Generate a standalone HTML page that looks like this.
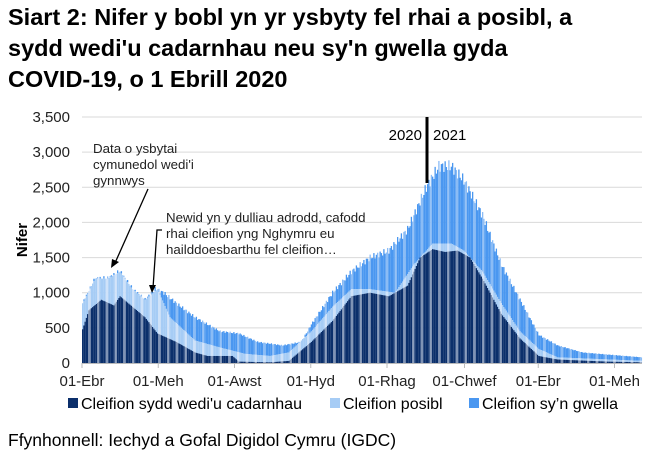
<!DOCTYPE html>
<html><head><meta charset="utf-8"><style>
body{margin:0;background:#fff;width:655px;height:462px;overflow:hidden;font-family:"Liberation Sans",Arial,sans-serif}
</style></head><body>
<svg id="s" width="655" height="462" xmlns="http://www.w3.org/2000/svg" font-family="Liberation Sans, Arial, sans-serif">
<text x="8" y="25" font-size="23.5" font-weight="bold">Siart 2: Nifer y bobl yn yr ysbyty fel rhai a posibl, a</text>
<text x="8" y="56" font-size="23.5" font-weight="bold">sydd wedi'u cadarnhau neu sy'n gwella gyda</text>
<text x="8" y="87" font-size="23.5" font-weight="bold">COVID-19, o 1 Ebrill 2020</text>
<g id="grid"></g>
<g id="bars"></g>
<g id="axis" font-size="15" fill="#222"></g>
<text transform="translate(27,240) rotate(-90)" text-anchor="middle" font-size="15" font-weight="bold">Nifer</text>
<line x1="427" y1="117" x2="427" y2="183" stroke="#000" stroke-width="3"/>
<text x="422" y="140" text-anchor="end" font-size="15">2020</text>
<text x="433" y="140" font-size="15">2021</text>
<g font-size="13.3" fill="#222">
<text x="93" y="153">Data o ysbytai</text>
<text x="93" y="169">cymunedol wedi'i</text>
<text x="93" y="185">gynnwys</text>
<text x="166" y="222">Newid yn y dulliau adrodd, cafodd</text>
<text x="166" y="238">rhai cleifion yng Nghymru eu</text>
<text x="166" y="254">hailddoesbarthu fel cleifion…</text>
</g>
<line x1="148" y1="189" x2="115" y2="263" stroke="#000" stroke-width="1.3"/>
<polygon points="111,268 112,259 119,262" fill="#000"/>
<polyline points="162,230 157,230 153,288" fill="none" stroke="#000" stroke-width="1.3"/>
<polygon points="152,293 149,285 156,285" fill="#000"/>
<g font-size="16">
<rect x="68" y="398" width="10" height="10" fill="#0b2f6b"/><text x="81" y="409">Cleifion sydd wedi'u cadarnhau</text>
<rect x="330" y="398" width="10" height="10" fill="#a6ccf5"/><text x="343" y="409">Cleifion posibl</text>
<rect x="469" y="398" width="10" height="10" fill="#4a97f0"/><text x="482" y="409">Cleifion sy’n gwella</text>
</g>
<text x="8" y="446" font-size="17.5">Ffynhonnell: Iechyd a Gofal Digidol Cymru (IGDC)</text>
</svg>
<script>
var NS="http://www.w3.org/2000/svg";
function el(p,t,a,txt){var e=document.createElementNS(NS,t);for(var k in a)e.setAttribute(k,a[k]);if(txt)e.textContent=txt;p.appendChild(e);return e;}
var y0=363,py=246/3500,x0=82,px=1.25;
var g=document.getElementById('grid'),ax=document.getElementById('axis'),b=document.getElementById('bars');
for(var v=0;v<=3500;v+=500){var y=y0-v*py;if(v>0)el(g,'line',{x1:82,x2:642,y1:y,y2:y,stroke:'#d9d9d9','stroke-width':1});
el(ax,'text',{x:70,y:y+5,'text-anchor':'end'},v.toLocaleString('en-US'));}
el(ax,'line',{x1:82,x2:642,y1:363.5,y2:363.5,stroke:'#bbb'});
var ticks=[[0,'01-Ebr'],[61,'01-Meh'],[122,'01-Awst'],[183,'01-Hyd'],[244,'01-Rhag'],[306,'01-Chwef'],[365,'01-Ebr'],[426,'01-Meh']];
ticks.forEach(function(t){var x=x0+t[0]*px;el(ax,'line',{x1:x,x2:x,y1:363,y2:368,stroke:'#bbb'});el(ax,'text',{x:x,y:386,'text-anchor':'middle'},t[1]);});
function interp(pts,d){for(var i=1;i<pts.length;i++){if(d<=pts[i][0]){var a=pts[i-1],c=pts[i];return a[1]+(c[1]-a[1])*(d-a[0])/(c[0]-a[0]);}}return pts[pts.length-1][1];}
var C=[[0,480],[5,750],[15,900],[25,820],[30,950],[40,800],[50,650],[60,420],[75,300],[90,150],[100,100],[120,100],[125,20],[150,10],[165,30],[183,300],[200,600],[215,950],[230,1000],[245,950],[260,1100],[270,1500],[280,1620],[290,1580],[300,1600],[310,1500],[320,1200],[335,700],[350,350],[365,100],[380,50],[420,20],[448,10]];
var S=[[0,850],[10,1200],[20,1200],[30,1300],[40,1050],[50,900],[60,1050],[70,650],[90,320],[110,220],[130,130],[150,100],[165,150],[183,450],[200,800],[215,1050],[230,1050],[250,1000],[265,1400],[280,1700],[295,1700],[305,1600],[320,1300],[335,850],[350,450],[365,200],[380,80],[448,30]];
var T=[[0,850],[10,1200],[20,1200],[30,1300],[40,1050],[50,900],[58,1050],[65,1000],[75,850],[90,650],[110,450],[125,420],[140,300],[160,250],[175,300],[183,550],[200,1000],[215,1300],[230,1500],[245,1600],[260,1900],[275,2500],[285,2800],[295,2800],[305,2600],[320,2100],[335,1400],[350,900],[365,400],[380,250],[400,150],[420,120],[448,80]];
for(var d=0;d<448;d++){var x=x0+d*px,w=px+0.05;
var c=interp(C,d),s=Math.max(c,interp(S,d)),t=Math.max(s,interp(T,d));
var we=(d%7==5||d%7==6);
var jit=1+0.03*Math.sin(d*2.3);
el(b,'rect',{x:x,y:y0-t*jit*py,width:w,height:(t*jit-s)*py,fill:we?'#8bbcf5':'#4a97f0'});
el(b,'rect',{x:x,y:y0-s*py,width:w,height:(s-c)*py,fill:we?'#cfe2f9':'#a6ccf5'});
el(b,'rect',{x:x,y:y0-c*py,width:w,height:c*py,fill:we?'#7f93b5':'#0b2f6b'});}
</script>
</body></html>
